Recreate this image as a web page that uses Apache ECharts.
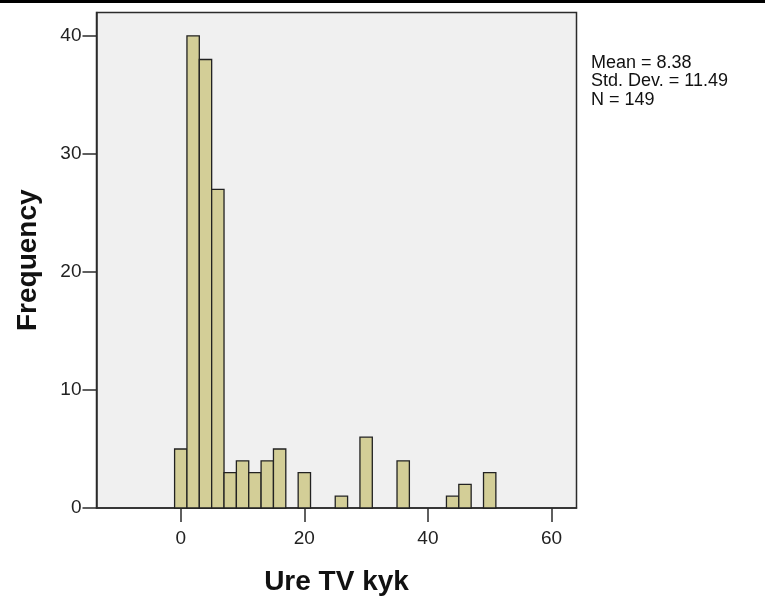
<!DOCTYPE html>
<html>
<head>
<meta charset="utf-8">
<script src="https://cdn.jsdelivr.net/npm/echarts@6/dist/echarts.min.js"></script>
<style>
html,body{margin:0;padding:0;background:#fff;}
#chart{width:765px;height:601px;}
</style>
</head>
<body>
<div id="chart"></div>
<script>
// Histogram bins (centers), bin width 2
var binCenters = [0, 2, 4, 6, 8, 10, 12, 14, 16, 20, 26, 30, 36, 44, 46, 50];
var frequencies = [5, 40, 38, 27, 3, 4, 3, 4, 5, 3, 1, 6, 4, 1, 2, 3];
var binWidth = 2;
var xTicks = [0, 20, 40, 60];
var yTicks = [0, 10, 20, 30, 40];
var statsLines = ['Mean = 8.38', 'Std. Dev. = 11.49', 'N = 149'];
var xTitle = 'Ure TV kyk';
var yTitle = 'Frequency';

var data = binCenters.map(function (c, i) { return [c, frequencies[i]]; });

var chart = echarts.init(document.getElementById('chart'), null, {renderer: 'canvas'});
var font = '"Liberation Sans", Arial, sans-serif';

chart.setOption({
  animation: false,
  backgroundColor: '#ffffff',
  grid: {
    left: 96.5, right: 188.5, top: 12.5, bottom: 91,
    show: true, backgroundColor: '#f0f0f0', borderColor: '#2b2b2b', borderWidth: 1.5
  },
  xAxis: {
    type: 'value', min: -13.64, max: 64.05,
    splitLine: {show: false},
    axisLine: {show: true, onZero: false, lineStyle: {color: '#2b2b2b', width: 1.5}},
    axisTick: {show: true, customValues: xTicks, length: 14, lineStyle: {color: '#2b2b2b', width: 1.5}},
    axisLabel: {customValues: xTicks, color: '#222', fontSize: 19, fontFamily: font, margin: 21},
    name: xTitle, nameLocation: 'middle', nameGap: 60,
    nameTextStyle: {fontSize: 28, fontWeight: 'bold', color: '#111', fontFamily: font}
  },
  yAxis: {
    type: 'value', min: 0, max: 41.98,
    splitLine: {show: false},
    axisLine: {show: true, onZero: false, lineStyle: {color: '#2b2b2b', width: 1.5}},
    axisTick: {show: true, customValues: yTicks, length: 14, lineStyle: {color: '#2b2b2b', width: 1.5}},
    axisLabel: {customValues: yTicks, color: '#222', fontSize: 19, fontFamily: font, margin: 15, padding: [6, 0, 0, 0]},
    name: yTitle, nameLocation: 'middle', nameGap: 54, nameRotate: 90,
    nameTextStyle: {fontSize: 28, fontWeight: 'bold', color: '#111', fontFamily: font}
  },
  series: [{
    type: 'custom',
    data: data,
    renderItem: function (params, api) {
      var c = api.value(0), f = api.value(1);
      var p1 = api.coord([c - binWidth / 2, f]);
      var p2 = api.coord([c + binWidth / 2, 0]);
      return {
        type: 'rect',
        shape: {x: p1[0], y: p1[1], width: p2[0] - p1[0], height: p2[1] - p1[1]},
        style: {fill: '#d3ce97', stroke: '#222', lineWidth: 1.3}
      };
    }
  }],
  graphic: [
    {type: 'rect', left: 0, top: 0, shape: {width: 765, height: 3}, style: {fill: '#000'}},
    {type: 'text', left: 591, top: 54, style: {
      text: statsLines.join('\n'), font: '18px ' + font, fill: '#111', lineHeight: 18.3
    }}
  ]
});
</script>
</body>
</html>
